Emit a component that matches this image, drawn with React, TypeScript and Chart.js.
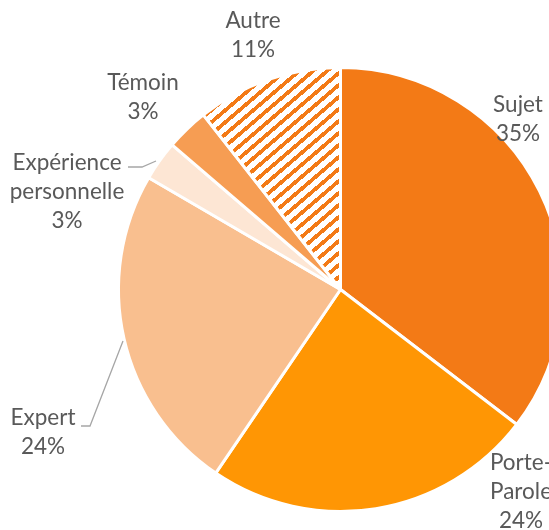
import React, { useEffect, useRef } from "react";
import { Chart, registerables } from "chart.js";

Chart.register(...registerables);

const categories = ["Sujet", "Porte-Parole", "Expert", "Expérience personnelle", "Témoin", "Autre"];
const labelLines = [["Sujet"], ["Porte-", "Parole"], ["Expert"], ["Expérience", "personnelle"], ["Témoin"], ["Autre"]];
const values = [35.4, 24.1, 23.9, 2.9, 3.1, 10.6];
const colors = ["#F37A16", "#FF9604", "#F9BF8F", "#FDE6D4", "#F69D53", "hatch"];

// label anchor (center of text block) in canvas pixels
const labelPos: [number, number][] = [
  [518, 105],
  [521, 463],
  [43, 418],
  [67, 163],
  [143, 83],
  [253, 21],
];
const leaders: Record<number, [number, number][]> = {
  2: [[81, 426], [90, 426], [123, 341]],
  3: [[128, 167], [142, 167], [156, 161]],
};

function makeHatch(): CanvasPattern | string {
  const W = 14;
  const H = 12;
  const c = document.createElement("canvas");
  c.width = W;
  c.height = H;
  const ctx = c.getContext("2d");
  if (!ctx) return "#F37A16";
  const img = ctx.createImageData(W, H);
  for (let y = 0; y < H; y++) {
    for (let x = 0; x < W; x++) {
      const i = (y * W + x) * 4;
      const v = (Math.floor((x * H) / W) + y) % H;
      const on = v < 5;
      img.data[i] = on ? 0xf3 : 255;
      img.data[i + 1] = on ? 0x7a : 255;
      img.data[i + 2] = on ? 0x16 : 255;
      img.data[i + 3] = 255;
    }
  }
  ctx.putImageData(img, 0, 0);
  const p = ctx.createPattern(c, "repeat");
  return p || "#F37A16";
}

export default function App() {
  const ref = useRef<HTMLCanvasElement | null>(null);
  useEffect(() => {
    if (!ref.current) return;
    const total = values.reduce((a, b) => a + b, 0);
    const bg = colors.map((c) => (c === "hatch" ? makeHatch() : c));
    const labelPlugin = {
      id: "outLabels",
      afterDraw(chart: any) {
        const ctx = chart.ctx as CanvasRenderingContext2D;
        ctx.save();
        ctx.strokeStyle = "#A6A6A6";
        ctx.lineWidth = 1.3;
        Object.keys(leaders).forEach((k) => {
          const pts = leaders[Number(k)];
          ctx.beginPath();
          pts.forEach((p, i) => (i === 0 ? ctx.moveTo(p[0], p[1]) : ctx.lineTo(p[0], p[1])));
          ctx.stroke();
        });
        ctx.fillStyle = "#595959";
        ctx.font = "22.5px Lato";
        ctx.textAlign = "center";
        ctx.textBaseline = "middle";
        const lh = 29;
        categories.forEach((_, i) => {
          const lines = [...labelLines[i], Math.round((values[i] / total) * 100) + "%"];
          const [x, y] = labelPos[i];
          lines.forEach((t, j) => ctx.fillText(t, x, y + j * lh));
        });
        ctx.restore();
      },
    };
    const chart = new Chart(ref.current, {
      type: "pie",
      data: {
        labels: categories,
        datasets: [
          {
            data: values,
            backgroundColor: bg as any,
            borderColor: "#FFFFFF",
            borderWidth: 3,
          },
        ],
      },
      options: {
        responsive: false,
        animation: false,
        events: [],
        layout: { padding: { left: 117, top: 66, right: 700 - 564, bottom: 530 - 513 } },
        plugins: {
          legend: { display: false },
          tooltip: { enabled: false },
        },
      },
      plugins: [labelPlugin],
    });
    return () => chart.destroy();
  }, []);
  return (
    <div style={{ position: "absolute", left: 0, top: 0, width: 549, height: 530, overflow: "hidden", background: "#fff" }}>
      <canvas ref={ref} width={700} height={530} style={{ width: 700, height: 530, display: "block" }} />
    </div>
  );
}
